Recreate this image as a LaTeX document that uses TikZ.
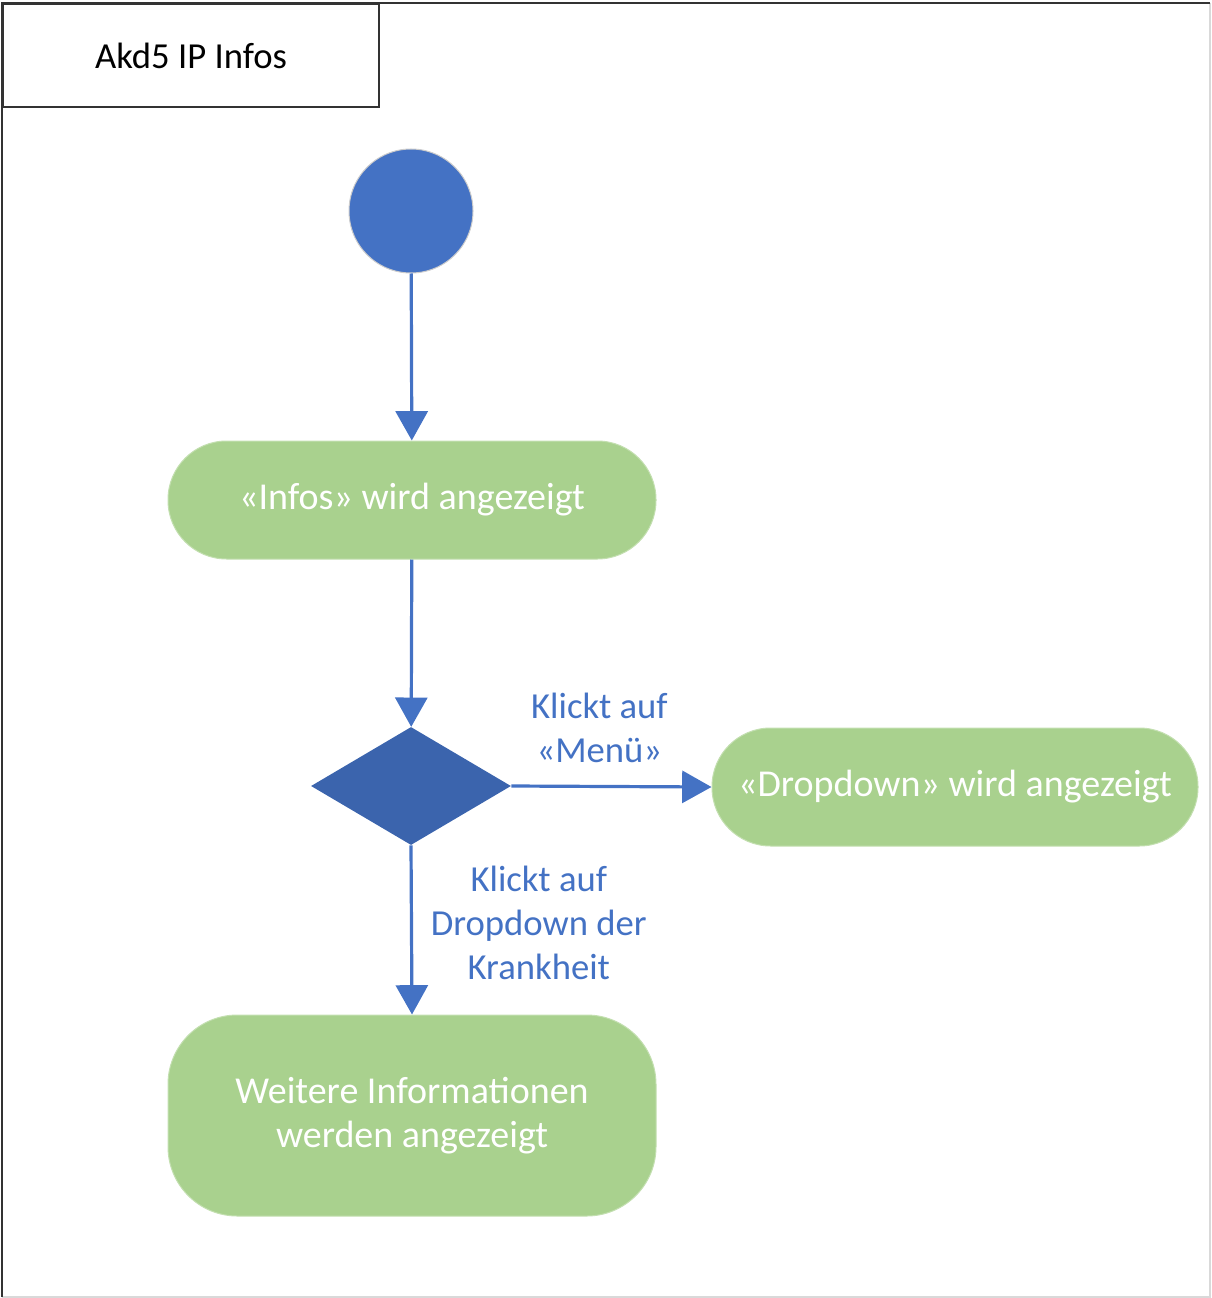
\documentclass[tikz,border=0pt]{standalone}
\usepackage{fontspec}
\setmainfont{Carlito}
\usetikzlibrary{arrows.meta,positioning,shapes.geometric}

\definecolor{umlblue}{HTML}{4472C4}
\definecolor{umldark}{HTML}{3B64AD}
\definecolor{umlgreen}{HTML}{A9D18E}

\begin{document}
\begin{tikzpicture}[x=0.75pt, y=-0.75pt, >={Triangle[width=24pt,length=22pt]},
  flow/.style={draw=umlblue, line width=2.4pt, ->},
  action/.style={rectangle, fill=umlgreen, draw=umlgreen!70!white, line width=0.75pt,
    text=white, align=center, font=\fontsize{28.5}{33}\selectfont,
    minimum width=366pt, minimum height=88.5pt, rounded corners=44pt},
  guard/.style={text=umlblue, align=center, font=\fontsize{27.5}{33}\selectfont}]
  \useasboundingbox (0,0) rectangle (1211,1298);

  % frame and title
  \draw[black!15, line width=1.5pt] (1210,3) -- (1210,1297) -- (2,1297);
  \draw[black!80, line width=1.5pt] (2,1297) -- (2,3) -- (1210,3);
  \node[draw=black!80, line width=1.5pt, minimum width=282pt, minimum height=77.25pt,
    font=\fontsize{27.5}{33}\selectfont, anchor=north west] (title) at (2,3) {Akd5 IP Infos};

  % nodes
  \node[circle, fill=umlblue, draw=black!20, line width=0.75pt, minimum size=93pt, inner sep=0pt] (start) at (411,211) {};
  \node[action] (infos) at (412,500) {«Infos» wird angezeigt};
  \node[diamond, fill=umldark, minimum width=150pt, minimum height=88.5pt, inner sep=0pt] (choice) at (411,786) {};
  \node[action, minimum width=364.5pt] (dropdown) at (955,787) {«Dropdown» wird angezeigt};
  \node[action, minimum height=150.75pt, rounded corners=52pt] (details) at (412,1115.5) {Weitere Informationen\\werden angezeigt};

  % connectors
  \draw[flow] (start) -- (infos);
  \draw[flow] (infos) -- (choice);
  \draw[flow] (choice.east) -- (dropdown.west)
    node[guard, midway, above=13pt, xshift=-9pt] {Klickt auf\\«Menü»};
  \draw[flow] (choice.south) -- (details.north)
    node[guard, midway, right=10pt, yshift=5pt] {Klickt auf\\Dropdown der\\Krankheit};
\end{tikzpicture}
\end{document}
